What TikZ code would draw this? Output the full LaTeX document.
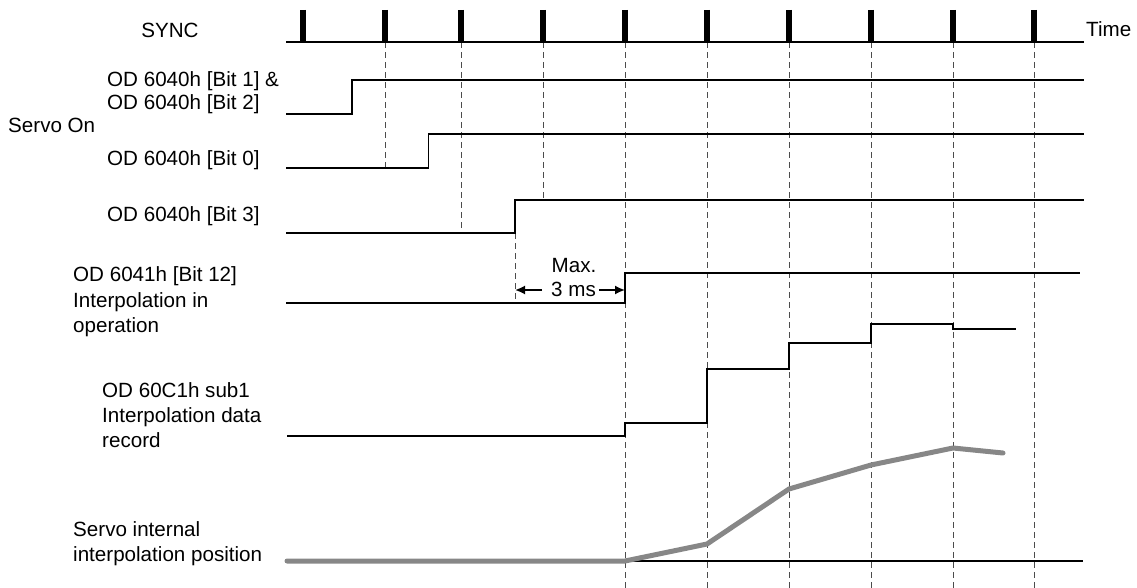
\documentclass[tikz,border=0pt]{standalone}
\usepackage{fontspec}
\setmainfont{Liberation Sans}
\usetikzlibrary{arrows.meta}
\begin{document}
\begin{tikzpicture}[x=1pt,y=-1pt,
  lbl/.style={anchor=base west,inner sep=0pt,font=\fontsize{20.6}{23.5}\selectfont},
  clbl/.style={anchor=base,inner sep=0pt,font=\fontsize{20.6}{23.5}\selectfont},
  sig/.style={line width=1.7pt,black},
  stair/.style={line width=1.4pt,black},
  gridline/.style={dash pattern=on 6pt off 4pt,line width=1pt,black!70},
  pulse/.style={line width=5.3pt,black},
  posline/.style={line width=5pt,black!47,line join=round,line cap=round},
  dimarrow/.style={line width=1.7pt,-{Latex[length=10pt,width=9pt]}}
]
\useasboundingbox (0,0) rectangle (1137,588);

% ---- text labels
\node[clbl] (sync) at (170,37.5) {SYNC};
\node[lbl] (time) at (1086,37) {Time};
\node[lbl] (b12a) at (107,86.7) {OD 6040h [Bit 1] \&};
\node[lbl] (b12b) at (107,110) {OD 6040h [Bit 2]};
\node[lbl] (servoon) at (8,132.7) {Servo On};
\node[lbl] (b0) at (107,165.5) {OD 6040h [Bit 0]};
\node[lbl] (b3) at (107,221.7) {OD 6040h [Bit 3]};
\node[lbl] (s12a) at (73,281.7) {OD 6041h [Bit 12]};
\node[lbl] (s12b) at (73,307) {Interpolation in};
\node[lbl] (s12c) at (73,332.3) {operation};
\node[lbl] (dra) at (102,397.3) {OD 60C1h sub1};
\node[lbl] (drb) at (102,422.3) {Interpolation data};
\node[lbl] (drc) at (102,447.7) {record};
\node[lbl] (sia) at (73,536.7) {Servo internal};
\node[lbl] (sib) at (73,561.7) {interpolation position};
\node[clbl] (max) at (574,272.7) {Max.};
\node[clbl] (ms) at (573.5,296.7) {3 ms};

% ---- dashed SYNC guide lines
\coordinate (g2t) at (385,42.3);  \coordinate (g2b) at (385,167.7);
\coordinate (g3t) at (461,42.3);  \coordinate (g3b) at (461,233);
\coordinate (g4t) at (543,42.3);  \coordinate (g4b) at (543,200);
\coordinate (gmt) at (515,233);   \coordinate (gmb) at (515,303.3);
\draw[gridline] (g2t) -- (g2b);
\draw[gridline] (g3t) -- (g3b);
\draw[gridline] (g4t) -- (g4b);
\draw[gridline] (gmt) -- (gmb);
\foreach \x [count=\i from 5] in {625,707,789,871,953,1034}{
  \coordinate (g\i t) at (\x,42.3);
  \coordinate (g\i b) at (\x,588);
  \draw[gridline] (g\i t) -- (g\i b);
}

% ---- SYNC line and pulses
\coordinate (syncs) at (286,42.3);
\coordinate (synce) at (1084,42.3);
\draw[sig] (syncs) -- (synce);
\foreach \x [count=\i] in {303,385,461,543,625,707,789,871,953,1034}{
  \coordinate (pt\i) at (\x,10);
  \coordinate (pb\i) at (\x,42.3);
  \draw[pulse] (pt\i) -- (pb\i);
}

% ---- Bit 1 & 2
\coordinate (a0) at (286,114.3); \coordinate (a1) at (352,114.3);
\coordinate (a2) at (352,80);    \coordinate (a3) at (1084,80);
\draw[sig] (a0) -- (a1) -- (a2) -- (a3);
% ---- Bit 0
\coordinate (c0) at (286,167.7); \coordinate (c1) at (428.5,167.7);
\coordinate (c2) at (428.5,134.3); \coordinate (c3) at (1084,134.3);
\draw[sig] (c0) -- (c1) -- (c2) -- (c3);
% ---- Bit 3
\coordinate (d0) at (286,233); \coordinate (d1) at (515,233);
\coordinate (d2) at (515,200); \coordinate (d3) at (1084,200);
\draw[sig] (d0) -- (d1) -- (d2) -- (d3);
% ---- Bit 12
\coordinate (e0) at (286,303.3); \coordinate (e1) at (625,303.3);
\coordinate (e2) at (625,273.3); \coordinate (e3) at (1080,273.3);
\draw[sig] (e0) -- (e1) -- (e2) -- (e3);

% ---- Max. 3 ms dimension arrows
\coordinate (ml) at (515,290); \coordinate (mlt) at (542,290);
\coordinate (mr) at (625,290); \coordinate (mrt) at (599,290);
\draw[dimarrow] (mlt) -- (ml);
\draw[dimarrow] (mrt) -- (mr);

% ---- Interpolation data record staircase
\coordinate (f0) at (287,436);
\draw[stair] (f0) -- (625,436) -- (625,423) -- (707,423) -- (707,369)
  -- (789,369) -- (789,343) -- (871,343) -- (871,324) -- (953,324)
  -- (953,329) -- (1016,329);

% ---- Servo internal interpolation position
\coordinate (h0) at (625,561); \coordinate (h1) at (1083,561);
\draw[stair] (h0) -- (h1);
\draw[posline] (287,561) -- (625,561) -- (707,544) -- (789,489)
  -- (871,465) -- (953,448) -- (1003,453);
\end{tikzpicture}
\end{document}
